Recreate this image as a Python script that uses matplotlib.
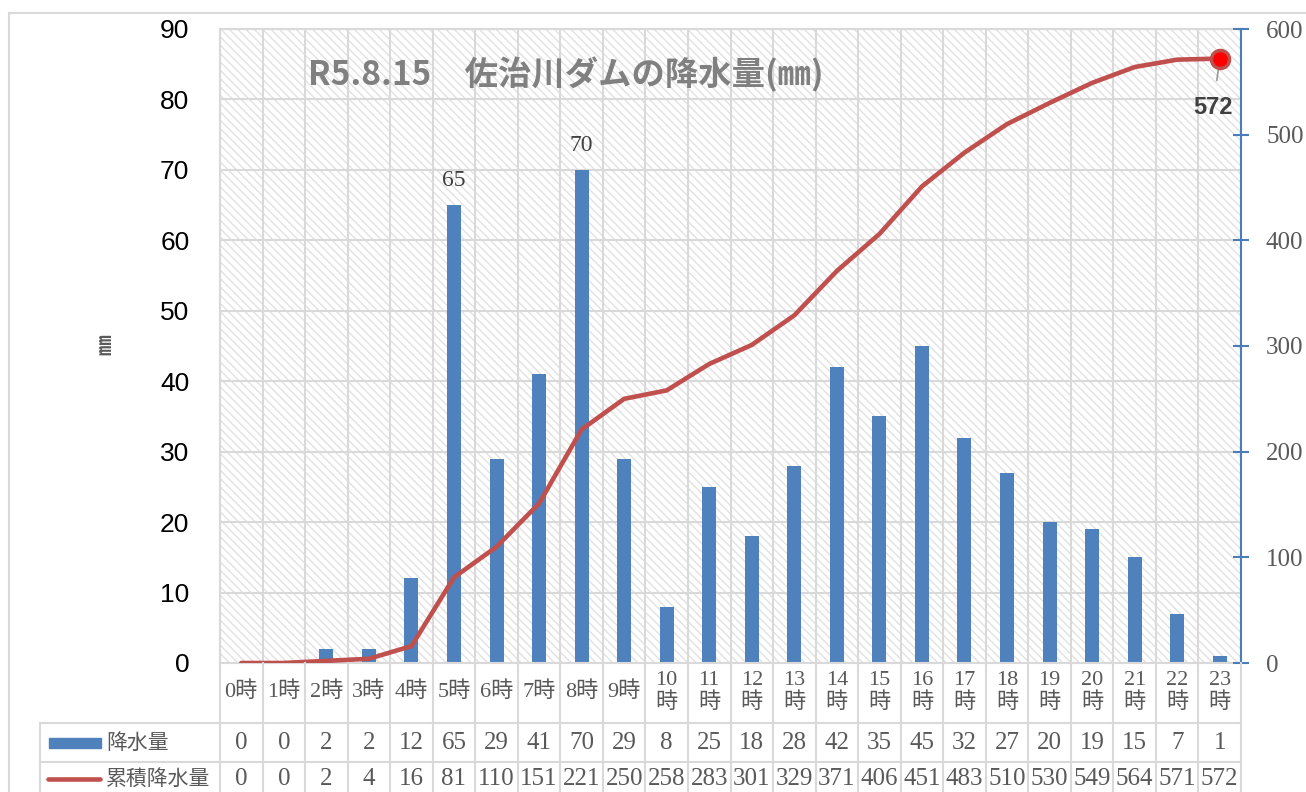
import numpy as np
import matplotlib
matplotlib.use("Agg")
from matplotlib import pyplot as plt
from matplotlib.transforms import blended_transform_factory
from matplotlib.lines import Line2D
from matplotlib.patches import Rectangle

hours = list(range(24))
hour_labels = [f"{h}時" if h < 10 else f"{h}\n時" for h in hours]
rain = [0, 0, 2, 2, 12, 65, 29, 41, 70, 29, 8, 25, 18, 28, 42, 35, 45, 32, 27, 20, 19, 15, 7, 1]
cum_rain = [0, 0, 2, 4, 16, 81, 110, 151, 221, 250, 258, 283, 301, 329, 371, 406, 451, 483, 510, 530, 549, 564, 571, 572]
labeled_bars = [5, 8]   # bars that carry a value label
title = "R5.8.15\u3000佐治川ダムの降水量(㎜)"
row_names = ["降水量", "累積降水量"]

BLUE = "#4f81bd"
RED = "#c0504d"
GRID = "#d9d9d9"
TXT = "#595959"
SERIF = ["Liberation Serif", "Noto Sans CJK JP"]
NARROW = ["Liberation Sans Narrow", "Liberation Sans", "DejaVu Sans"]
JP = ["Noto Sans CJK JP", "DejaVu Sans"]

W, H = 1306, 792
fig = plt.figure(figsize=(W / 100, H / 100), dpi=100)

def fx(px):
    return px / W

def fy(py):
    return 1 - py / H

ax = fig.add_axes([fx(220), fy(663), fx(1241) - fx(220), fy(29) - fy(663)])
x = np.arange(len(hours))

# hatched plot background
ax.patch.set_facecolor("white")
bg = Rectangle((0, 0), 1, 1, transform=ax.transAxes, facecolor="white",
               edgecolor="#e2e2e2", hatch="\\\\\\\\", lw=0, zorder=0)
ax.add_patch(bg)

ax.set_axisbelow(True)
ax.bar(x, rain, width=0.33, color=BLUE, zorder=2)
for i in labeled_bars:
    ax.text(x[i], rain[i] + 2.0, str(rain[i]), ha="center", va="bottom",
            fontsize=17, color="#404040", family=SERIF, zorder=3)

ax.set_xlim(-0.5, len(hours) - 0.5)
ax.set_ylim(0, 90)
ax.set_yticks(range(0, 91, 10))
ax.set_xticks(np.arange(-0.5, len(hours), 1.0))
ax.set_xticklabels([])
ax.tick_params(axis="x", length=0)
ax.tick_params(axis="y", length=0, pad=22, labelsize=19)
for lab in ax.get_yticklabels():
    lab.set_family(NARROW)
ax.grid(True, color=GRID, lw=1.5, zorder=1)
for s in ax.spines.values():
    s.set_color(GRID)
    s.set_linewidth(1.5)

ax2 = ax.twinx()
ax2.plot(x, cum_rain, color=RED, lw=3.3, solid_capstyle="round", zorder=4)
ax2.plot(x[-1], cum_rain[-1], "o", ms=13, mfc="#ff0000", mec=RED, mew=2.5, zorder=5)
ax2.annotate(str(cum_rain[-1]), xy=(x[-1], cum_rain[-1]), xytext=(x[-1] - 0.15, 526),
             ha="center", va="center", fontsize=17, fontweight="bold",
             color="#404040", family=NARROW,
             arrowprops=dict(arrowstyle="-", color="#999999", lw=1.2, shrinkA=9, shrinkB=6))
ax2.set_ylim(0, 600)
ax2.set_yticks(range(0, 601, 100))
for name in ["top", "left", "bottom"]:
    ax2.spines[name].set_visible(False)
ax2.spines["right"].set_color("#4a7ebb")
ax2.spines["right"].set_linewidth(1.5)
ax2.tick_params(axis="y", direction="inout", length=12, width=1.5, color="#4a7ebb",
                labelcolor=TXT, labelsize=18, pad=12)
for lab in ax2.get_yticklabels():
    lab.set_family(SERIF)

fig.text(fx(566), fy(75), title, ha="center", va="center", fontsize=24,
         fontweight="bold", color="#808080", family=JP)
fig.text(fx(105), fy(345), "㎜", rotation=90, ha="center", va="center",
         fontsize=15, fontweight="bold", color=TXT, family=JP)

# data table under the chart
tr = blended_transform_factory(ax.transData, fig.transFigure)
for b in np.arange(-0.5, len(hours), 1.0):
    fig.add_artist(Line2D([b, b], [fy(663), fy(800)], transform=tr, color=GRID, lw=1.5))
fig.add_artist(Line2D([fx(40), fx(40)], [fy(723), fy(800)], color=GRID, lw=1.5))
for yy in [723, 762]:
    fig.add_artist(Line2D([fx(40), fx(1241)], [fy(yy), fy(yy)], color=GRID, lw=1.5))

for i, lab in zip(x, hour_labels):
    fig.text(i, fy(692), lab, transform=tr, ha="center", va="center",
             fontsize=16, color=TXT, family=SERIF, linespacing=1.2)
for i in x:
    fig.text(i, fy(743), str(rain[i]), transform=tr, ha="center", va="center",
             fontsize=18, color=TXT, family=SERIF)
    fig.text(i, fy(779), str(cum_rain[i]), transform=tr, ha="center", va="center",
             fontsize=18, color=TXT, family=SERIF)

fig.add_artist(Rectangle((fx(49), fy(748)), fx(101) - fx(49), fy(738) - fy(748),
                         transform=fig.transFigure, color=BLUE))
fig.add_artist(Line2D([fx(48), fx(100)], [fy(779), fy(779)], color=RED, lw=3.3,
                      solid_capstyle="round"))
fig.text(fx(106), fy(743), row_names[0], ha="left", va="center", fontsize=15,
         color=TXT, family=JP)
fig.text(fx(106), fy(779), row_names[1], ha="left", va="center", fontsize=15,
         color=TXT, family=JP)

# chart frame
fig.add_artist(Line2D([fx(9), fx(1310)], [fy(13), fy(13)], color=GRID, lw=1.5))
fig.add_artist(Line2D([fx(9), fx(9)], [fy(13), fy(800)], color=GRID, lw=1.5))

fig.savefig("out.png", dpi=100)
